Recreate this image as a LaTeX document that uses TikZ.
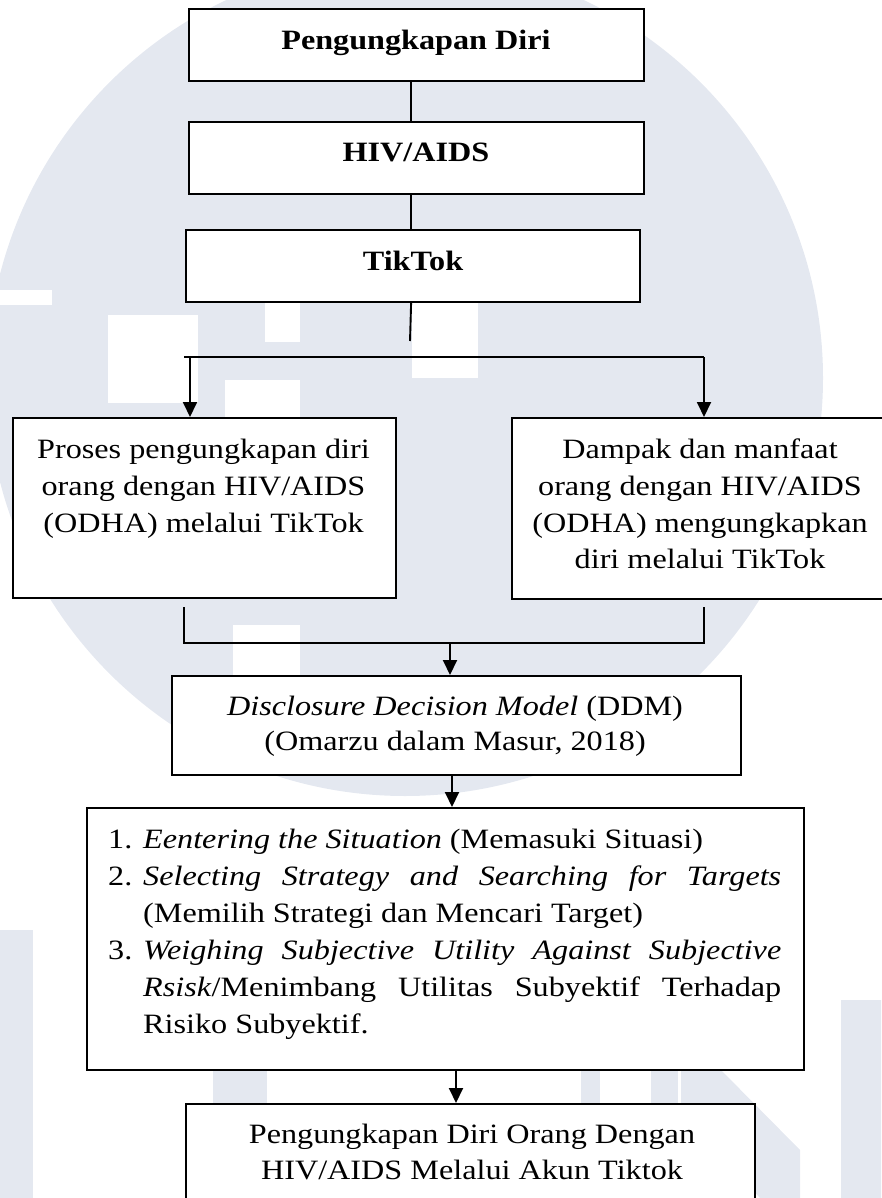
\documentclass[tikz,border=0pt]{standalone}
\usepackage{fontspec}
\setmainfont{Liberation Serif}[FakeStretch=1.15]
\usetikzlibrary{arrows.meta}
\definecolor{wm}{RGB}{228,232,240}
\tikzset{
  box/.style={draw, fill=white, line width=2.2pt, inner sep=0pt},
  conn/.style={line width=1.9pt},
  arr/.style={conn, -{Triangle[length=15pt,width=14pt]}},
  txt/.style={font=\fontsize{28}{37}\selectfont, inner sep=0pt, anchor=base},
  txtl/.style={txt, anchor=base west}
}
\begin{document}
\begin{tikzpicture}[x=1pt,y=-1pt]
\useasboundingbox (0,0) rectangle (881,1198);
% watermark (approximate)
\begin{scope}
\clip (0,0) rectangle (881,1198);
\fill[wm] (405,378) circle (418);
\fill[white] (0,290) rectangle (52,305);
\fill[white] (108,315) rectangle (198,403);
\fill[white] (225,380) rectangle (300,440);
\fill[white] (265,303) rectangle (300,342);
\fill[white] (412,301) rectangle (478,378);
\fill[white] (233,625) rectangle (300,760);
% letters U M N (approximate)
\fill[wm] (-20,930) rectangle (33,1198);
\fill[wm] (213,1069) rectangle (267,1198);
\fill[wm] (581,1069) rectangle (600,1198);
\fill[wm] (651,1069) rectangle (678,1198);
\fill[wm] (681,1069) -- (720,1069) -- (800,1150) -- (800,1198) -- (760,1198) -- (681,1110) -- cycle;
\fill[wm] (841,1000) rectangle (900,1198);
\end{scope}

% top column
\node[box, minimum width=455pt, minimum height=72pt, anchor=north west] (b1) at (188,8) {};
\node[txt] (t1) at (416,50) {\bfseries Pengungkapan Diri};
\node[box, minimum width=455pt, minimum height=72pt, anchor=north west] (b2) at (188,121) {};
\node[txt] (t2) at (416,162) {\bfseries HIV/AIDS};
\node[box, minimum width=454pt, minimum height=72pt, anchor=north west] (b3) at (185,229) {};
\node[txt] (t3) at (413,270) {\bfseries TikTok};

\draw[conn] ([xshift=-5.5pt]b1.south) -- ([xshift=-5.5pt]b2.north);
\draw[conn] ([xshift=-5.5pt]b2.south) -- ([xshift=-2pt]b3.north);
\coordinate (stub) at (410,341);
\draw[conn] ([xshift=-2pt]b3.south) -- (stub);

% split
\coordinate (hl) at (184,357);
\coordinate (hr) at (704,357);
\coordinate (colL) at (190,357);
\draw[conn] (hl) -- (hr);

\node[box, minimum width=383pt, minimum height=180pt, anchor=north west] (L) at (12,417) {};
\node[box, minimum width=378pt, minimum height=181pt, anchor=north west] (R) at (511,417) {};
\draw[arr] (colL) -- (L.north -| colL);
\draw[arr] (hr) -- (R.north -| hr);

\node[txt] (l1) at (203.5,458) {Proses pengungkapan diri};
\node[txt] (l2) at (203.5,495) {orang dengan HIV/AIDS};
\node[txt] (l3) at (203.5,532) {(ODHA) melalui TikTok};

\node[txt] (r1) at (700,458) {Dampak dan manfaat};
\node[txt] (r2) at (700,495) {orang dengan HIV/AIDS};
\node[txt] (r3) at (700,532) {(ODHA) mengungkapkan};
\node[txt] (r4) at (700,568) {diri melalui TikTok};

% merge
\coordinate (ml) at (184,607);
\coordinate (mr) at (704,607);
\coordinate (mlb) at (184,643);
\coordinate (mrb) at (704,643);
\coordinate (mc) at (450,643);
\draw[conn] (ml) -- (mlb) -- (mrb) -- (mr);

\node[box, minimum width=569pt, minimum height=99pt, anchor=north west] (D) at (171,675) {};
\draw[arr] (mc) -- (D.north -| mc);
\node[txt] (d1) at (455,715) {\itshape Disclosure Decision Model\/\upshape{} (DDM)};
\node[txt] (d2) at (455,750) {(Omarzu dalam Masur, 2018)};

\node[box, minimum width=717pt, minimum height=262pt, anchor=north west] (T) at (86,807) {};
\coordinate (c2) at (452,0);
\draw[arr] (D.south -| c2) -- (T.north -| c2);

\node[txtl] (n1) at (108,848) {1.};
\node[txtl] (i1) at (143,848) {\textit{Eentering the Situation} (Memasuki Situasi)};
\node[txtl] (n2) at (108,885) {2.};
\node[txtl] (i2) at (143,885) {\makebox[638pt][s]{\itshape Selecting Strategy and Searching for Targets}};
\node[txtl] (i3) at (143,922) {(Memilih Strategi dan Mencari Target)};
\node[txtl] (n3) at (108,959) {3.};
\node[txtl] (i4) at (143,959) {\makebox[638pt][s]{\itshape Weighing Subjective Utility Against Subjective}};
\node[txtl] (i5) at (143,996) {\makebox[638pt][s]{\textit{Rsisk}/Menimbang Utilitas Subyektif Terhadap}};
\node[txtl] (i6) at (143,1033) {Risiko Subyektif.};

\node[box, minimum width=569pt, minimum height=110pt, anchor=north west] (F) at (185,1103) {};
\coordinate (c3) at (456,0);
\draw[arr] (T.south -| c3) -- (F.north -| c3);
\node[txt] (f1) at (472,1143) {Pengungkapan Diri Orang Dengan};
\node[txt] (f2) at (472,1179) {HIV/AIDS Melalui Akun Tiktok};
\end{tikzpicture}
\end{document}
